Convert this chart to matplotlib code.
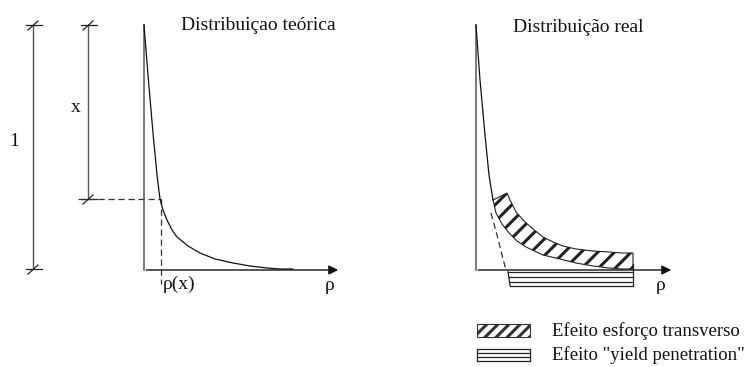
import matplotlib.pyplot as plt
from matplotlib.patches import Polygon

# pontos (coordenadas em pixels da imagem, y para baixo)
teorica_x = [144, 148, 153, 157, 160, 163, 167, 172, 177, 188, 200, 215, 233, 250, 267, 280, 293]
teorica_y = [25, 75, 133, 175, 199, 210, 220, 230, 237, 246, 253, 259, 263, 266, 268, 269, 269]

real_x = [476, 480, 485, 489, 493]
real_y = [25, 80, 135, 175, 200]

faixa_inf_x = [493, 496, 502, 509, 517, 526, 543, 560, 576, 593, 609, 622, 633]
faixa_inf_y = [200, 213, 224, 233, 241, 247, 255, 259, 263, 266, 268, 269, 269]
faixa_sup_x = [633, 622, 609, 593, 576, 563, 553, 543, 533, 524, 516, 510, 507]
faixa_sup_y = [253, 253, 252, 251, 249, 246, 242, 237, 229, 221, 212, 200, 193]

tracejado_real_x = [491, 497, 502, 506]
tracejado_real_y = [213, 235, 255, 270]

yield_linhas_y = [271.5, 276.5, 281.5, 285.5]
yield_x0, yield_x1 = 508, 633

legenda_textos = ['Efeito esforço transverso', 'Efeito "yield penetration"']

fig = plt.figure(figsize=(7.52, 3.67), dpi=100)
ax = fig.add_axes([0, 0, 1, 1])
ax.set_xlim(0, 752)
ax.set_ylim(367, 0)
ax.axis('off')

fonte = dict(family='Liberation Serif', color='#111111')
cinza = '#555555'
plt.rcParams['hatch.color'] = '#777777'

# ---------------- distribuição teórica ----------------
# cotas "1" e "x"
for xc, y0, y1 in [(33, 25, 269), (88, 25, 199)]:
    ax.plot([xc, xc], [y0, y1], color=cinza, lw=1)
    for yy in (y0, y1):
        ax.plot([xc - 7, xc + 9], [yy, yy], color='#222222', lw=0.9)
        ax.plot([xc - 5, xc + 5], [yy + 5, yy - 4], color='#222222', lw=0.9)
ax.text(14, 142, '1', fontsize=14, ha='center', va='center', **fonte)
ax.text(76, 108, 'x', fontsize=14, ha='center', va='center', **fonte)

ax.plot([78, 160.5], [199, 199], color='#333333', lw=0.9, ls=(0, (5, 3)))
ax.plot([160.5, 160.5], [199, 284], color='#333333', lw=0.9, ls=(0, (5, 3)))

ax.plot([144, 144], [25, 270], color=cinza, lw=1.1)
ax.annotate('', xy=(341, 270), xytext=(143.5, 270),
            arrowprops=dict(arrowstyle='-|>', color='#111111', lw=1, mutation_scale=14))
ax.plot(teorica_x, teorica_y, color='#111111', lw=0.9)

ax.text(258, 26, 'Distribuiçao teórica', fontsize=14, ha='center', va='center', **fonte)
ax.text(179, 284, 'ρ(x)', fontsize=14, ha='center', va='center', **fonte)
ax.text(330, 285, 'ρ', fontsize=14, ha='center', va='center', **fonte)

# ---------------- distribuição real ----------------
ax.plot([476, 476], [25, 270], color=cinza, lw=1.1)
ax.annotate('', xy=(674, 270), xytext=(475.5, 270),
            arrowprops=dict(arrowstyle='-|>', color='#111111', lw=1, mutation_scale=14))
ax.plot(real_x, real_y, color='#111111', lw=0.9)

plt.rcParams['hatch.linewidth'] = 2.2
faixa = Polygon(list(zip(faixa_inf_x + faixa_sup_x, faixa_inf_y + faixa_sup_y)),
                closed=True, facecolor='white', edgecolor='#222222', lw=0.8, hatch='//')
ax.add_patch(faixa)
ax.plot(tracejado_real_x, tracejado_real_y, color='#333333', lw=0.9, ls=(0, (5, 3)))

# faixa "yield penetration" sob o eixo
for i, yy in enumerate(yield_linhas_y):
    ax.plot([yield_x0 + i * 0.6, yield_x1], [yy, yy], color='#222222', lw=0.9)
ax.plot([yield_x0, yield_x0 + 2], [yield_linhas_y[0], yield_linhas_y[-1]], color='#222222', lw=0.9)
ax.plot([yield_x1, yield_x1], [yield_linhas_y[0] - 8, yield_linhas_y[-1]], color='#222222', lw=0.9)

ax.text(578, 27, 'Distribuição real', fontsize=14, ha='center', va='center', **fonte)
ax.text(661, 286, 'ρ', fontsize=14, ha='center', va='center', **fonte)

# ---------------- legenda ----------------
caixa = Polygon([(477, 324), (530, 324), (530, 337), (477, 337)], closed=True,
                facecolor='white', edgecolor='#333333', lw=0.8, hatch='///')
ax.add_patch(caixa)
for yy in [349, 353, 357, 361]:
    ax.plot([477, 530], [yy, yy], color='#222222', lw=0.9)
ax.plot([477, 477], [349, 361], color='#222222', lw=0.9)
ax.plot([530, 530], [349, 361], color='#222222', lw=0.9)

ax.text(552, 331, legenda_textos[0], fontsize=13.5, ha='left', va='center', **fonte)
ax.text(552, 355, legenda_textos[1], fontsize=13.5, ha='left', va='center', **fonte)

fig.savefig('out.png', dpi=100)
